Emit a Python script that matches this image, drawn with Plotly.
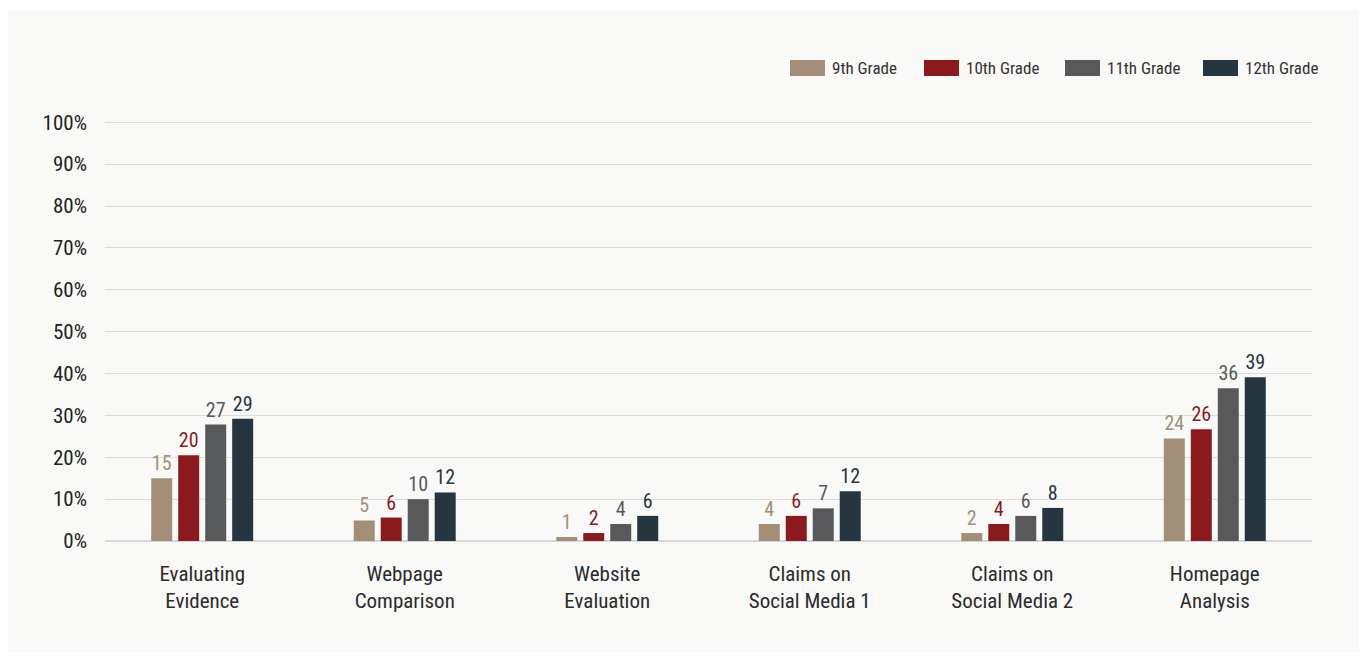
import plotly.graph_objects as go

categories = ["Evaluating<br>Evidence", "Webpage<br>Comparison", "Website<br>Evaluation",
              "Claims on<br>Social Media 1", "Claims on<br>Social Media 2", "Homepage<br>Analysis"]
series_names = ["9th Grade", "10th Grade", "11th Grade", "12th Grade"]
grade9 = [15.0, 4.9, 0.95, 4.06, 1.9, 24.5]
grade10 = [20.5, 5.6, 1.9, 6.0, 4.06, 26.7]
grade11 = [27.8, 10.0, 4.06, 7.8, 6.0, 36.5]
grade12 = [29.2, 11.6, 6.0, 11.9, 7.9, 39.1]
labels9 = ["15", "5", "1", "4", "2", "24"]
labels10 = ["20", "6", "2", "6", "4", "26"]
labels11 = ["27", "10", "4", "7", "6", "36"]
labels12 = ["29", "12", "6", "12", "8", "39"]
y_ticks = [0, 10, 20, 30, 40, 50, 60, 70, 80, 90, 100]
y_tick_labels = [f"{v}%" for v in y_ticks]

colors = ["#a38f78", "#8b1a1c", "#58595b", "#253640"]
FONT = "Roboto Condensed, Roboto, sans-serif"

fig = go.Figure()
for name, vals, labs, col in zip(series_names, [grade9, grade10, grade11, grade12],
                                 [labels9, labels10, labels11, labels12], colors):
    fig.add_trace(go.Bar(
        name=name, x=categories, y=vals, text=labs,
        textposition="outside", cliponaxis=False,
        textfont=dict(family=FONT, size=20, color=col),
        marker=dict(color=col, line=dict(width=0)),
        showlegend=False,
    ))

W, H = 1367, 662
ml, mr, mt, mb = 105, 55, 121, 121
pw, ph = W - ml - mr, H - mt - mb


def px_to_paper_x(px):
    return (px - ml) / pw


def px_to_paper_y(py):
    return (H - mb - py) / ph


# panel background
fig.add_shape(type="rect", xref="paper", yref="paper",
              x0=px_to_paper_x(8), x1=px_to_paper_x(1359),
              y0=px_to_paper_y(652), y1=px_to_paper_y(10),
              fillcolor="#f9f9f7", line=dict(width=0), layer="below")

# custom legend (wide rectangular swatches)
legend_swatch_px = [790, 924, 1065, 1203]
for name, col, sx in zip(series_names, colors, legend_swatch_px):
    fig.add_shape(type="rect", xref="paper", yref="paper",
                  x0=px_to_paper_x(sx), x1=px_to_paper_x(sx + 35),
                  y0=px_to_paper_y(76), y1=px_to_paper_y(60),
                  fillcolor=col, line=dict(width=0))
    fig.add_annotation(xref="paper", yref="paper", x=px_to_paper_x(sx + 40), y=px_to_paper_y(68),
                       xanchor="left", yanchor="middle", showarrow=False, text=name,
                       font=dict(family=FONT, size=17, color="#333333"))

fig.update_layout(
    width=W, height=H,
    margin=dict(l=ml, r=mr, t=mt, b=mb),
    paper_bgcolor="#ffffff", plot_bgcolor="rgba(0,0,0,0)",
    barmode="group", bargap=0.467, bargroupgap=0.222,
    font=dict(family=FONT, color="#333333"),
    showlegend=False,
)
fig.update_xaxes(range=[-0.48, 5.48], showgrid=False, zeroline=False, showline=False,
                 ticks="", tickfont=dict(family=FONT, size=21, color="#2b2b2b"),
                 ticklabelstandoff=18)
fig.update_yaxes(range=[0, 100.3], tickvals=y_ticks, ticktext=y_tick_labels,
                 showgrid=True, gridcolor="#dcdcdc", gridwidth=1,
                 zeroline=True, zerolinecolor="#d6d6d6", zerolinewidth=2,
                 showline=False, ticks="", ticklabelstandoff=17,
                 tickfont=dict(family=FONT, size=21, color="#222222"))

fig.write_html("out.html")
